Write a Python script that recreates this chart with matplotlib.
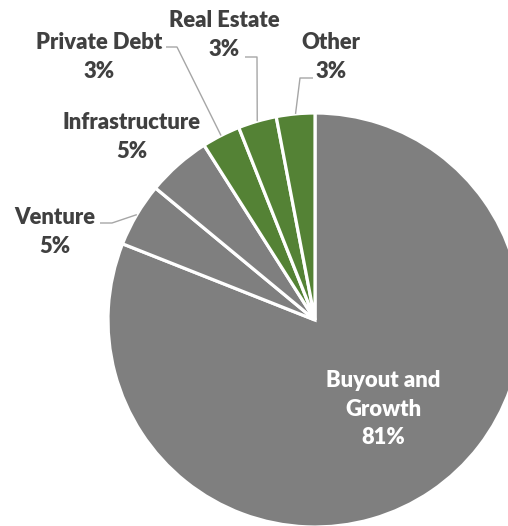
import numpy as np
import matplotlib
matplotlib.use('Agg')
import matplotlib.pyplot as plt

# allocation by strategy, clockwise from 12 o'clock
labels = ['Buyout and\nGrowth', 'Venture', 'Infrastructure', 'Private Debt', 'Real Estate', 'Other']
shares = [81, 5, 5, 3, 3, 3]

GRAY = '#7f7f7f'
GREEN = '#548235'
TEXT = '#404040'
LEADER = '#a6a6a6'
colors = [GRAY, GRAY, GRAY, GREEN, GREEN, GREEN]

plt.rcParams['font.family'] = ['Lato', 'DejaVu Sans']

W, H = 508, 526
R = 207.0
cx, cy = 315.0, 320.0

fig = plt.figure(figsize=(W / 100, H / 100), dpi=100)
ax = fig.add_axes([0, 0, 1, 1])

wedges, _ = ax.pie(shares, colors=colors, startangle=90, counterclock=False,
                   wedgeprops=dict(edgecolor='white', linewidth=2.3))

# put the axes in pixel-like units so the circle sits where it should
ax.set_xlim(-cx / R, (W - cx) / R)
ax.set_ylim((cy - H) / R, cy / R)
ax.set_aspect('equal')
ax.axis('off')


def px(x, y):
    return (x - cx) / R, (cy - y) / R


# outside labels: text centre and leader elbow (None = no leader)
outside = {
    'Venture': ((55, 232), [(112, 223), (100, 223)]),
    'Infrastructure': ((132, 137), None),
    'Private Debt': ((99, 57), [(177, 47), (166, 47)]),
    'Real Estate': ((224, 35), [(257, 57), (245, 57)]),
    'Other': ((331, 57), [(300, 78), (313, 78)]),
}

FS = 15.8
for w, lab, val in zip(wedges, labels, shares):
    text = f'{lab}\n{val}%'
    if lab in outside:
        (tx, ty), elbow = outside[lab]
        ax.text(*px(tx, ty), text, ha='center', va='center', fontsize=FS,
                fontweight='heavy', color=TEXT, linespacing=1.42)
        if elbow:
            mid = np.deg2rad((w.theta1 + w.theta2) / 2)
            pts = [(np.cos(mid), np.sin(mid))] + [px(*p) for p in elbow]
            xs, ys = zip(*pts)
            ax.plot(xs, ys, color=LEADER, lw=1.0, solid_capstyle='butt')
    else:
        ax.text(*px(383, 409), text, ha='center', va='center', fontsize=FS,
                fontweight='heavy', color='white', linespacing=1.42)

fig.savefig('out.png', dpi=100)
